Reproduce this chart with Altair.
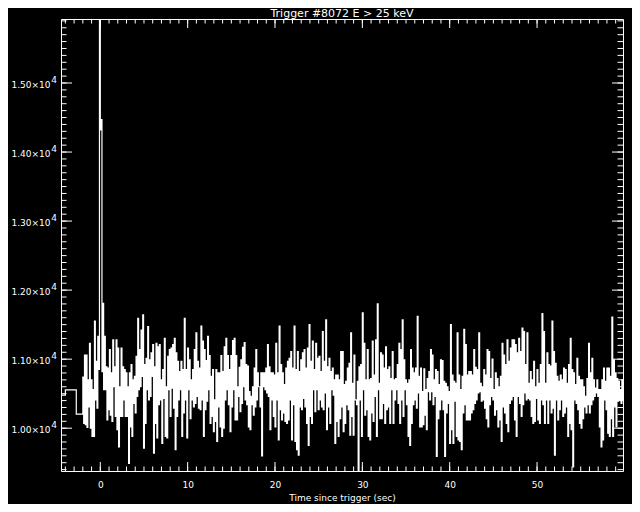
import altair as alt
import pandas as pd

title_text = "Trigger #8072 E > 25 keV"
x_title = "Time since trigger (sec)"

# pre-burst coarse bins (bin start time, counts/s)
coarse_time = [-4.6, -4.0, -2.75]
coarse_rate = [10480, 10555, 10205]

# fine-resolution part (counts/s), from t = -2.0 s to the end
fine_start = -2.0
fine_end = 59.9

rate_seg1 = [
    10740, 10070, 11060, 10050, 11060, 10010, 10700, 10310, 11230, 10000,
    10700, 9880, 10560, 9880, 11550, 10410, 10970, 10290, 11330, 10850,
    16500, 14320, 14470, 10820, 11810, 10560, 11330, 10560, 10890, 10120,
    10870, 10270, 11140, 10190, 10800, 10100, 11280, 10600, 10890, 10170,
    11280, 9980, 11160, 9730, 10600, 10170, 11160, 10170, 10890, 10410,
    10850, 10170, 10800, 10170, 10600, 9490, 10800, 10020, 10920, 9880,
    10700, 10360, 10750, 10220, 11040, 10460, 11590, 10560, 11140, 10600,
    11420, 10750, 11640, 9710, 10920, 10070, 11010, 10560, 11470, 10410,
    10990, 10460, 11090, 10750, 11210, 9640, 10890, 10070, 11230, 9860,
    11180, 10340, 11210, 10410, 10700, 9780, 10850, 10430, 11300, 9880,
    10600, 9860, 11040, 10560, 11140, 10170, 11160, 10580, 11210, 10290,
    11300, 9690, 11090, 10170, 10970, 10410, 10820, 10560, 10970, 9880,
    10850, 10220, 11590, 10410, 10850, 9860, 11160, 10560, 10990, 10140,
    10700, 10410, 10850, 10310, 11140, 10360, 11380, 10460, 10970, 10290,
    10870, 10270,
]

rate_seg2 = [
    11480, 10410, 11260, 9880, 11140, 10270, 10980, 10390, 11330, 10560,
    11050, 10070, 10750, 10170, 10850, 9950, 10410, 10100, 10850, 9810,
    10800, 10310, 10800, 10020, 11050, 9880, 10820, 10000, 11180, 10410,
    11300, 10560, 11050, 10340, 10850, 9950, 11050, 10310, 11270, 10560,
    11300, 10120, 11050, 10120, 10600, 10460, 10880, 10240, 10990, 10360,
    11170, 10600, 11240, 10410, 10920, 10340, 10900, 10020, 10530, 9980,
    10460, 10340, 10600, 10190, 10870, 10310, 11140, 10410, 10800, 10600,
    10600, 10310, 10800, 9600, 10800, 10600, 10800, 10560, 10870, 10510,
    11210, 10460, 10890, 9980, 10800, 10410, 10800, 10170, 10770, 10020,
    11230, 10410, 10800, 9830, 11480, 10270, 10920, 10120, 10800, 10220,
    10630, 10100, 10870, 10070, 10970, 10120, 11010, 10410, 11110, 9830,
    10870, 10340, 11480, 9810, 10850, 9690, 11110, 9610, 10820, 10310,
    10990, 10270, 11090, 10430, 11140, 10310, 10870, 10070, 11160, 9750,
    11500, 10170, 10970, 10070, 11260, 10560, 10850, 10240, 11230, 10560,
    11010, 10270, 11040, 10410, 10820, 10310, 11400, 10270, 10970, 10510,
    11570, 9980, 10890, 10310, 11010, 10070, 10820, 10560, 10870, 10480,
    10700, 9780, 10770, 10100, 10770, 9880, 10700, 10140, 11110, 10310,
]

rate_seg3 = [
    11110, 9950, 10630, 10070, 10680, 10340, 10870, 10270, 10940, 9900,
    11380, 10170, 10650, 9900, 11060, 10410, 10410, 10340, 10680, 9380,
    10890, 10410, 10920, 9880, 11670, 10560, 11230, 10190, 10700, 10270,
    11140, 9880, 10700, 9830, 10720, 10220, 11260, 10100, 10770, 10460,
    11280, 9880, 11800, 10560, 10650, 10140, 11090, 10140, 11060, 10360,
    10870, 10070, 11180, 10270, 10850, 10310, 10890, 10070, 10720, 10560,
    11110, 10070, 10700, 10410, 10720, 10560, 10920, 10360, 11230, 10070,
    11140, 10410, 11570, 10170, 10990, 10560, 10700, 10340, 10650, 9880,
    10700, 9750, 11140, 10070, 10870, 10340, 10800, 10410, 10870, 10290,
    11620, 10510, 10750, 10020, 10870, 10020, 10530, 10050, 10860, 10190,
    10560, 9980, 10720, 10530, 10820, 10410, 11140, 10530, 11060, 10340,
    10700, 10460, 10850, 9590, 10820, 10140, 10630, 10270, 10990, 10410,
    10980, 10270, 10680, 9590, 10650, 10220, 10600, 10360, 10530, 9780,
    11500, 9980, 10770, 9780, 10680, 10390, 10650, 9880, 11380, 9830,
    10770, 9810, 10560, 9690, 10750, 10220, 11430, 10340, 11210, 10120,
    10770, 10120, 10820, 10120, 10820, 10220, 10770, 10270, 11140, 10360,
    10880, 10410, 10850, 10510, 11380, 10530, 10650, 10390, 10600, 10410,
]

rate_seg4 = [
    10850, 10290, 10770, 10140, 11140, 10020, 11110, 10340, 10720, 10460,
    11000, 10410, 10560, 10190, 10800, 10270, 10720, 10020, 10600, 10120,
    10750, 9810, 11230, 10310, 11060, 10220, 10920, 10070, 11280, 9950,
    10970, 10360, 11160, 10410, 11280, 10460, 11280, 10120, 11210, 9880,
    11090, 10460, 11300, 10360, 11110, 10170, 11450, 10340, 11400, 10510,
    10920, 10410, 11380, 10430, 10650, 10410, 10820, 10170, 10700, 10070,
    10970, 10100, 10600, 10430, 10850, 10120, 10650, 10070, 10920, 10410,
    11660, 10340, 11400, 10070, 10650, 10410, 11090, 10070, 10920, 10410,
    10900, 10220, 11550, 10290, 11110, 9610, 10940, 10410, 10750, 10120,
    10680, 10270, 10770, 10410, 10700, 10170, 10870, 10220, 10850, 10310,
    10650, 9880, 10920, 10070, 11300, 9980, 10850, 9440, 10800, 10410,
    10630, 10360, 11010, 10270, 10750, 10070, 10700, 10000, 10700, 10140,
    10600, 10310, 10460, 10220, 10720, 10340, 11230, 10220, 10800, 10340,
    11010, 10410, 10700, 10460, 10580, 10510, 10700, 10460, 10560, 10020,
    10560, 9730, 10700, 9830, 10870, 10410, 10680, 10270, 10870, 9930,
    10870, 9880, 10750, 10140, 11610, 9880, 10990, 10310, 10800, 10020,
    10720, 10390, 10680, 10410, 10560, 10360, 10700, 10410,
]

x_major = [0, 10, 20, 30, 40, 50]
x_minor = list(range(-4, 60))
y_major = [10000, 11000, 12000, 13000, 14000, 15000]
y_minor = list(range(9400, 16000, 100))

fine_rate = rate_seg1 + rate_seg2 + rate_seg3 + rate_seg4
n = len(fine_rate)
dt = (fine_end - fine_start) / n
times = coarse_time + [fine_start + i * dt for i in range(n)] + [fine_end]
rates = coarse_rate + fine_rate + [fine_rate[-1]]
df = pd.DataFrame({"t": times, "v": rates})

W, H = 562, 452
FONT = "DejaVu Sans"
xs = alt.Scale(domain=[-4.5, 59.84], nice=False, zero=False)
ys = alt.Scale(domain=[9380, 15927], nice=False, zero=False)

x_axis = alt.Axis(values=x_major, title=x_title)
y_axis = alt.Axis(
    values=y_major, title=None,
    labelExpr="format(datum.value / 10000, '.2f') + '\u00d710'",
)
x_enc = alt.X("t:Q", scale=xs, axis=x_axis)
y_enc = alt.Y("v:Q", scale=ys, axis=y_axis)

line = alt.Chart(df).mark_line(
    interpolate="step-after", color="white", strokeWidth=1.2, clip=True
).encode(x=x_enc, y=y_enc)


def xticks(vals, y0, y1):
    return alt.Chart(pd.DataFrame({"t": vals})).mark_rule(
        color="white", strokeWidth=1
    ).encode(x=x_enc, y=alt.value(y0), y2=alt.value(y1))


def yticks(vals, x0, x1):
    return alt.Chart(pd.DataFrame({"v": vals})).mark_rule(
        color="white", strokeWidth=1
    ).encode(y=y_enc, x=alt.value(x0), x2=alt.value(x1))


sup = alt.Chart(pd.DataFrame({"v": y_major})).mark_text(
    text="4", fill="white", font=FONT, fontSize=9, align="right",
    baseline="middle", dy=-3,
).encode(y=y_enc, x=alt.value(-4))

chart = alt.layer(
    line,
    xticks(x_major, H, H - 9), xticks(x_minor, H, H - 4.5),
    xticks(x_major, 0, 9), xticks(x_minor, 0, 4.5),
    yticks(y_major, 0, 11), yticks(y_minor, 0, 5.5),
    yticks(y_major, W, W - 11), yticks(y_minor, W, W - 5.5),
    sup,
).properties(
    width=W, height=H, background="black",
    padding={"left": 53, "top": 11, "right": 9, "bottom": 33},
    autosize=alt.AutoSizeParams(type="none"),
    title=alt.TitleParams(
        title_text, color="white", font=FONT, fontSize=11, fontWeight="normal",
        anchor="middle", offset=0,
    ),
).configure_view(
    stroke="white", strokeWidth=1
).configure_axisX(
    ticks=False, domain=False, grid=False,
    labelColor="white", labelFont=FONT, labelFontSize=9, labelPadding=9,
    labelFlush=False, titleColor="white", titleFont=FONT, titleFontSize=9,
    titleFontWeight="normal", titlePadding=4,
).configure_axisY(
    ticks=False, domain=False, grid=False,
    labelColor="white", labelFont=FONT, labelFontSize=9, labelPadding=11,
    labelOffset=1.5, labelFlush=False,
)

chart.save("out.html", embed_options={"renderer": "svg", "actions": False})
